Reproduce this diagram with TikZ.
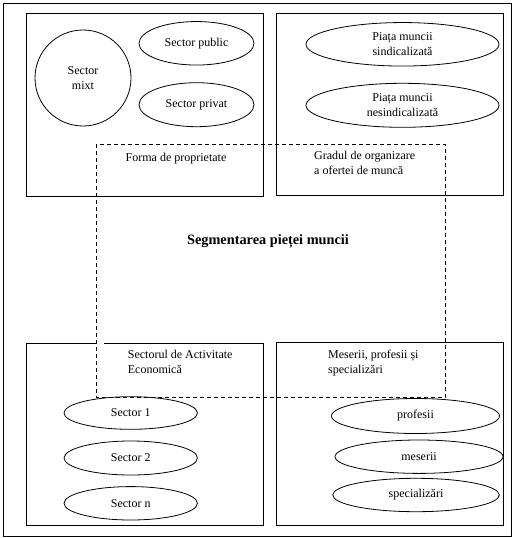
\documentclass[tikz,border=0pt]{standalone}
\usepackage{fontspec}
\setmainfont{Liberation Serif}
\usetikzlibrary{shapes.geometric}
\tikzset{
  frame/.style={draw, line width=0.8pt},
  oval/.style={draw, ellipse, line width=0.8pt, inner sep=0pt, font=\fontsize{12}{15}\selectfont, align=center},
  lbl/.style={inner sep=0pt, font=\fontsize{12}{15}\selectfont, align=left, anchor=north west},
  dashbox/.style={draw, dashed, line width=0.8pt, dash pattern=on 4pt off 3pt},
}
\begin{document}
\begin{tikzpicture}[x=1pt,y=-1pt]
\useasboundingbox (0,0) rectangle (514,538);
% outer frame
\draw[frame, line width=1pt] (3.3,3.3) rectangle (511.5,536);
% quadrant boxes
\draw[frame] (26,13) rectangle (263,196);
\draw[frame] (276,13) rectangle (503,195);
\draw[frame] (104,343) -- (263,343) -- (263,525) -- (26,525) -- (26,343) -- (96.7,343);
\draw[frame] (276,342) rectangle (503,525);
% dashed central box
\draw[dashbox] (96.7,144) rectangle (445,397.7);
% top-left
\node[oval, minimum width=96pt, minimum height=96pt] (mixt) at (83,78) {Sector\\mixt};
\node[oval, minimum width=115pt, minimum height=43.5pt] (public) at (196.5,43.3) {Sector public};
\node[oval, minimum width=115pt, minimum height=44pt] (privat) at (196.5,104.7) {Sector privat};
\node[inner sep=0pt, font=\fontsize{12}{15}\selectfont, anchor=base] (forma) at (176,161) {Forma de proprietate};
% top-right
\node[oval, minimum width=193pt, minimum height=43.5pt] (sind) at (402.5,44.3) {Piața muncii\\sindicalizată};
\node[oval, minimum width=193pt, minimum height=44pt] (nesind) at (402.5,105.3) {Piața muncii\\nesindicalizată};
\node[lbl] (grad) at (314,150.5) {Gradul de organizare\\a ofertei de muncă};
% title
\node[inner sep=0pt, font=\bfseries\fontsize{14.3}{17}\selectfont] (title) at (268,241.7) {Segmentarea pieței muncii};
% bottom-left
\node[lbl] (sact) at (127.7,349.5) {Sectorul de Activitate\\Economică};
\node[oval, minimum width=133.4pt, minimum height=32.6pt] (s1) at (130.7,413) {Sector 1};
\node[oval, minimum width=133.4pt, minimum height=34pt] (s2) at (130.7,458) {Sector 2};
\node[oval, minimum width=133.4pt, minimum height=33.4pt] (sn) at (130.7,503.3) {Sector n};
% bottom-right
\node[lbl] (mps) at (328,349.5) {Meserii, profesii și\\specializări};
\node[oval, minimum width=168pt, minimum height=35pt] (prof) at (415.5,416) {profesii};
\node[oval, minimum width=168pt, minimum height=33.4pt] (mes) at (419,456.7) {meserii};
\node[oval, minimum width=166.6pt, minimum height=33.4pt] (spec) at (416,495) {specializări};
\end{tikzpicture}
\end{document}
